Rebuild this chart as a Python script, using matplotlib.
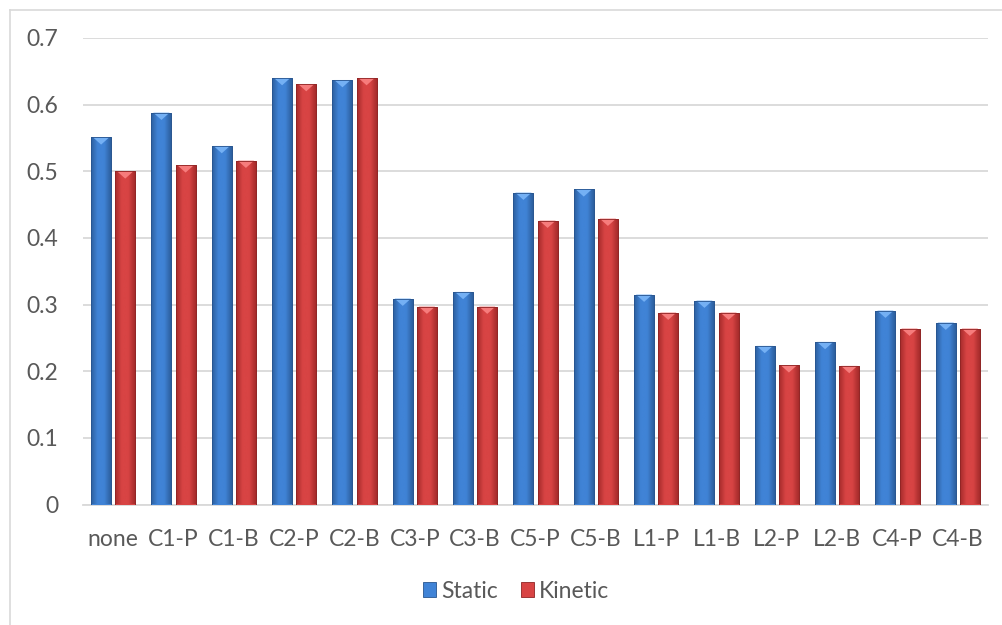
import numpy as np
import matplotlib
matplotlib.use("Agg")
import matplotlib.pyplot as plt
from matplotlib.patches import Rectangle, Polygon
from matplotlib.colors import LinearSegmentedColormap
from matplotlib.lines import Line2D

categories = ["none", "C1-P", "C1-B", "C2-P", "C2-B", "C3-P", "C3-B", "C5-P",
              "C5-B", "L1-P", "L1-B", "L2-P", "L2-B", "C4-P", "C4-B"]
static = [0.551, 0.588, 0.538, 0.640, 0.637, 0.309, 0.319, 0.468,
          0.473, 0.315, 0.306, 0.238, 0.244, 0.291, 0.273]
kinetic = [0.500, 0.509, 0.516, 0.631, 0.640, 0.297, 0.297, 0.426,
           0.429, 0.288, 0.288, 0.209, 0.208, 0.264, 0.264]
yticks = [0, 0.1, 0.2, 0.3, 0.4, 0.5, 0.6, 0.7]
ytick_labels = ["0", "0.1", "0.2", "0.3", "0.4", "0.5", "0.6", "0.7"]

plt.rcParams["font.family"] = ["Lato", "DejaVu Sans"]

series = [
    ("Static", static, dict(edge="#28558f", dark="#2c5f9e", mid="#4083d6", cap="#74b0f4")),
    ("Kinetic", kinetic, dict(edge="#8f2424", dark="#a52b2b", mid="#d84444", cap="#f67c7c")),
]

fig = plt.figure(figsize=(10.02, 6.25), dpi=100)
ax = fig.add_axes([83 / 1002, 120.5 / 625, 905 / 1002, 466.5 / 625])

# chart frame
fig.add_artist(Line2D([10 / 1002, 1.0], [1 - 10 / 625] * 2, color="#d9d9d9", lw=1.2,
                      transform=fig.transFigure))
fig.add_artist(Line2D([10 / 1002] * 2, [0, 1 - 10 / 625], color="#d9d9d9", lw=1.2,
                      transform=fig.transFigure))

x = np.arange(len(categories))
width = 0.33
gap = 0.07
offsets = [-(width + gap) / 2, (width + gap) / 2]
cap_depth = 0.011

for (name, vals, c), off in zip(series, offsets):
    cmap = LinearSegmentedColormap.from_list(
        name, [c["dark"], c["mid"], c["mid"], c["dark"]])
    grad = np.linspace(0, 1, 64)[None, :]
    for xi, v in zip(x, vals):
        x0 = xi + off - width / 2
        rect = Rectangle((x0, 0), width, v, facecolor=c["mid"], edgecolor=c["edge"],
                         lw=0.6, zorder=3)
        ax.add_patch(rect)
        im = ax.imshow(grad, cmap=cmap, extent=(x0, x0 + width, 0, v),
                       aspect="auto", zorder=3.1, interpolation="bicubic")
        im.set_clip_path(rect)
        cap = Polygon([(x0 + 0.03, v), (x0 + width - 0.03, v),
                       (x0 + width / 2, v - cap_depth)],
                      closed=True, facecolor=c["cap"], edgecolor="none", zorder=3.2)
        ax.add_patch(cap)
        ax.add_patch(Rectangle((x0, 0), width, v, facecolor="none",
                               edgecolor=c["edge"], lw=0.6, zorder=3.3))

ax.set_xlim(-0.5, len(categories) - 0.5)
ax.set_ylim(0, 0.7)
ax.set_yticks(yticks)
ax.set_yticklabels(ytick_labels)
ax.set_xticks(x)
ax.set_xticklabels(categories)
ax.grid(axis="y", color="#d9d9d9", lw=1.3, zorder=0)
ax.set_axisbelow(True)
for s in ["top", "right", "left"]:
    ax.spines[s].set_visible(False)
ax.spines["bottom"].set_color("#d9d9d9")
ax.spines["bottom"].set_linewidth(1.3)
ax.tick_params(axis="both", length=0, labelsize=16.5, colors="#595959")
ax.tick_params(axis="y", pad=18)
ax.tick_params(axis="x", pad=18)

handles = [Rectangle((0, 0), 1, 1, facecolor=c["mid"], edgecolor=c["edge"], lw=0.6)
           for _, _, c in series]
fig.legend(handles, [s[0] for s in series], loc="center",
           bbox_to_anchor=(516 / 1002, 1 - 591 / 625), ncol=2, frameon=False,
           fontsize=16.5, labelcolor="#595959", handlelength=0.6, handleheight=0.6,
           handletextpad=0.2, columnspacing=1.0)

fig.savefig("out.png", dpi=100)
